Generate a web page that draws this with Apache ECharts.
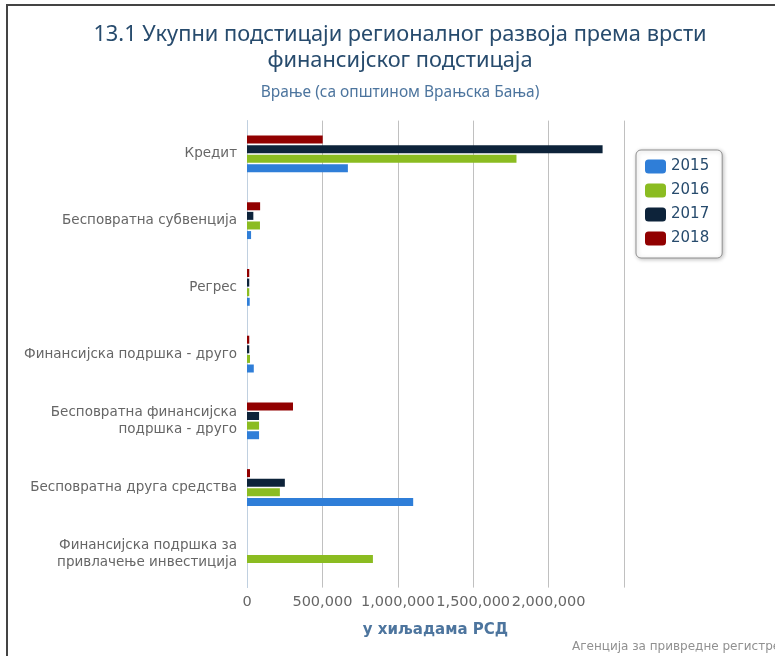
<!DOCTYPE html>
<html>
<head>
<meta charset="utf-8">
<script src="https://cdn.jsdelivr.net/npm/echarts@6/dist/echarts.min.js"></script>
<style>
  html, body { margin: 0; padding: 0; background: #fff; overflow: hidden; width: 775px; height: 656px; }
  #chart { width: 800px; height: 656px; }
</style>
</head>
<body>
<div id="chart"></div>
<script>
const categories = [
  'Кредит',
  'Бесповратна субвенција',
  'Регрес',
  'Финансијска подршка - друго',
  'Бесповратна финансијска подршка - друго',
  'Бесповратна друга средства',
  'Финансијска подршка за привлачење инвестиција'
];
const years = ['2015', '2016', '2017', '2018'];
const values2015 = [669000, 27000, 18000, 45000, 80000, 1102000, 0];
const values2016 = [1787000, 86000, 15000, 20000, 80000, 218000, 835000];
const values2017 = [2358000, 42000, 15000, 15000, 80000, 251000, 0];
const values2018 = [502000, 87000, 15000, 15000, 305000, 20000, 0];
const xTicks = [0, 500000, 1000000, 1500000, 2000000, 2500000];
const colors = ['#2f7ed8', '#8bbc21', '#0d233a', '#910000'];

const seriesValues = [values2015, values2016, values2017, values2018];

function wrapLabel(s, maxChars) {
  const words = s.split(' ');
  const lines = [];
  let cur = '';
  words.forEach(w => {
    if (cur && (cur + ' ' + w).length > maxChars) { lines.push(cur); cur = w; }
    else cur = cur ? cur + ' ' + w : w;
  });
  if (cur) lines.push(cur);
  return lines.join('\n');
}

// series listed last-year-first so that 2018 sits on top of each group
const order = [3, 2, 1, 0];

const chart = echarts.init(document.getElementById('chart'), null, { renderer: 'canvas' });
const option = {
  animation: false,
  title: [
    {
      text: '13.1 Укупни подстицаји регионалног развоја према врсти\nфинансијског подстицаја',
      left: 'center', top: 17,
      textStyle: { fontFamily: 'Noto Sans', fontSize: 21.8, fontWeight: 'normal', color: '#274b6d', lineHeight: 26 }
    },
    {
      text: 'Врање (са општином Врањска Бања)',
      left: 'center', top: 80,
      textStyle: { fontFamily: 'Noto Sans', fontSize: 15.5, fontWeight: 'normal', color: '#4d759e' }
    }
  ],
  legend: {
    orient: 'vertical',
    left: 636, top: 150,
    padding: [9, 13, 12, 9],
    itemGap: 9,
    itemWidth: 21, itemHeight: 14,
    icon: 'roundRect',
    borderColor: '#909090', borderWidth: 1, borderRadius: 5,
    backgroundColor: '#fff',
    shadowColor: 'rgba(0,0,0,0.25)', shadowBlur: 4, shadowOffsetX: 1, shadowOffsetY: 1,
    textStyle: { fontFamily: 'DejaVu Sans', fontSize: 15, color: '#274b6d' },
    data: years
  },
  grid: { left: 247, right: 176, top: 120.6, bottom: 68.4, containLabel: false },
  xAxis: {
    type: 'value',
    min: 0, max: 2500000, interval: 500000,
    name: 'у хиљадама РСД',
    nameLocation: 'middle',
    nameGap: 35,
    nameTextStyle: { fontFamily: 'DejaVu Sans', fontSize: 15, fontWeight: 'bold', color: '#4d759e' },
    axisLine: { show: false },
    axisTick: { show: false },
    splitLine: { lineStyle: { color: '#c0c0c0', width: 1 } },
    axisLabel: {
      fontFamily: 'DejaVu Sans', fontSize: 14.5, color: '#666', margin: 7,
      showMaxLabel: false,
      formatter: v => (v === xTicks[xTicks.length - 1] ? '' : v.toLocaleString('en-US'))
    }
  },
  yAxis: {
    type: 'category',
    inverse: true,
    data: categories,
    axisLine: { lineStyle: { color: '#c0d0e0', width: 1 } },
    axisTick: { length: 7, lineStyle: { color: '#c0d0e0' } },
    axisLabel: {
      fontFamily: 'DejaVu Sans', fontSize: 13.5, color: '#666', margin: 10, lineHeight: 17.5,
      align: 'right',
      formatter: v => wrapLabel(v, 27)
    }
  },
  series: order.map(i => ({
    name: years[i],
    type: 'bar',
    data: seriesValues[i],
    barWidth: 8,
    barGap: '20%',
    itemStyle: { color: colors[i] }
  })),
  graphic: [
    {
      type: 'polyline',
      shape: { points: [[7, 660], [7, 5], [805, 5]] },
      style: { stroke: '#444', lineWidth: 2, fill: null },
      silent: true
    },
    {
      type: 'text',
      left: 572, top: 641,
      style: { text: 'Агенција за привредне регистре', fontFamily: 'DejaVu Sans', fontSize: 12, fill: '#909090' },
      silent: true
    }
  ]
};
chart.setOption(option);
</script>
</body>
</html>
